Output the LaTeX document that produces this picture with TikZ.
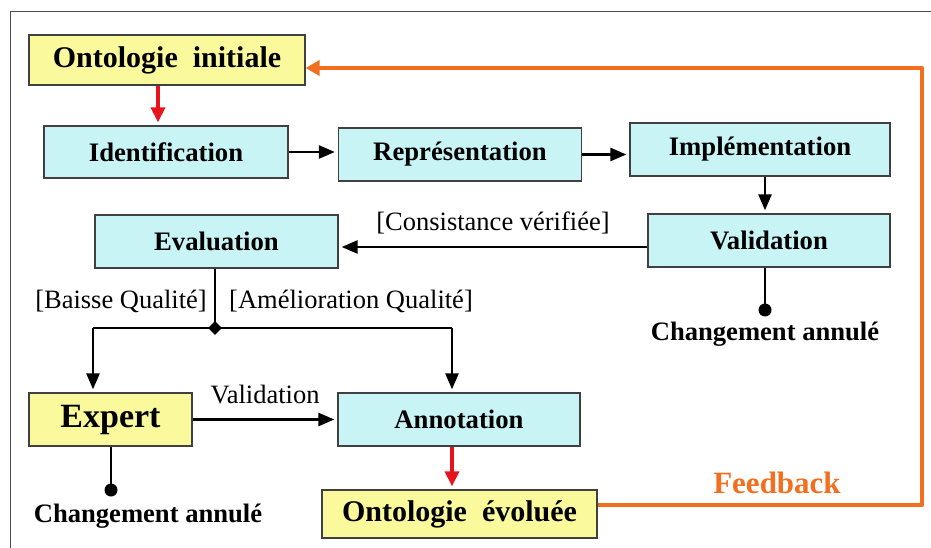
\documentclass[tikz,border=0pt]{standalone}
\usepackage{fontspec}
\setmainfont{Liberation Serif}
\usetikzlibrary{arrows.meta,shapes.geometric}

\definecolor{bleuclair}{HTML}{C8F4F6}
\definecolor{jaunepale}{HTML}{FAFA9C}
\definecolor{orangefb}{HTML}{F26F1F}
\definecolor{rougefl}{HTML}{E8141C}

\tikzset{
	etape/.style={draw=black!75, line width=1.3pt, fill=bleuclair, inner sep=0pt, font=\fontsize{26.7}{30}\selectfont\bfseries},
	onto/.style={etape, fill=jaunepale, font=\fontsize{30}{34}\selectfont\bfseries},
	fleche/.style={draw=black, line width=2.6pt, shorten >=3pt, -{Triangle[length=16pt,width=13pt]}},
	flecherouge/.style={fleche, draw=rougefl, -{Triangle[length=15pt,width=14pt]}, line width=3.5pt},
	garde/.style={font=\fontsize{26.5}{30}\selectfont, inner sep=0pt},
	annule/.style={font=\fontsize{26.6}{30}\selectfont\bfseries, inner sep=0pt},
}

\begin{document}
\begin{tikzpicture}[x=1pt, y=-1pt]

		\useasboundingbox (0, 0) rectangle (931, 548);
		\fill[white] (0, 0) rectangle (931, 548);
		\draw[color=black!70, line width=1pt] (10, 548) -- (10, 12) -- (931, 12);

		\node[onto, minimum width=276pt, minimum height=50pt] (oi) at (167, 60) {Ontologie\ \ initiale};
		\node[etape, minimum width=244pt, minimum height=52pt] (ident) at (166, 152) {Identification};
		\node[etape, minimum width=243pt, minimum height=53pt] (repr) at (460, 154.5) {Représentation};
		\node[etape, minimum width=260pt, minimum height=53pt] (impl) at (760, 149.5) {Implémentation};
		\node[etape, minimum width=242pt, minimum height=53pt] (valid) at (769, 240.5) {Validation};
		\node[etape, minimum width=243pt, minimum height=53pt] (eval) at (216.5, 241.5) {Evaluation};
		\node[onto, minimum width=163pt, minimum height=53pt, font=\fontsize{34}{38}\selectfont\bfseries] (expert) at (110.5, 419.5) {Expert};
		\node[etape, minimum width=242pt, minimum height=53pt] (annot) at (459, 419.5) {Annotation};
		\node[onto, minimum width=275pt, minimum height=48pt] (oe) at (459.5, 514) {Ontologie\ \ évoluée};

		\draw[flecherouge] ([xshift=-9pt]oi.south) -- ([xshift=-8pt]ident.north);
		\draw[fleche] (ident.east) -- (ident.east -| repr.west);
		\draw[fleche] (repr.east) -- (repr.east -| impl.west);
		\draw[fleche] ([xshift=5pt]impl.south) -- ([xshift=-4pt]valid.north);
		\draw[fleche] ([yshift=-6.5pt]valid.west) -- ([yshift=-6.5pt]valid.west -| eval.east)
			node[garde, midway, above=12pt] (consist) {[Consistance vérifiée]};

		\coordinate (branche) at (215, 328);
		\coordinate (gauche) at (93, 328);
		\coordinate (droite) at (452, 328);
		\draw[line width=2.4pt] (eval.south -| branche) -- (branche);
		\draw[line width=2.4pt] (gauche) -- (droite);
		\node[diamond, fill=black, inner sep=0pt, minimum size=14pt] (losange) at (branche) {};
		\draw[fleche] (gauche) -- (gauche |- expert.north);
		\draw[fleche] (droite) -- (droite |- annot.north);
		\node[garde] (baisse) at (121, 301) {[Baisse Qualité]};
		\node[garde] (amelio) at (351, 301) {[Amélioration Qualité]};

		\draw[fleche] (expert.east) -- (annot.west)
			node[garde, midway, above=14pt] (valexp) {Validation};
		\draw[flecherouge] ([xshift=-7pt]annot.south) -- ([xshift=-7pt]annot.south |- oe.north);

		\coordinate (arretV) at (765, 310);
		\draw[line width=2.6pt] (valid.south -| arretV) -- (arretV);
		\fill (arretV) circle (6.5pt);
		\node[annule] (annuleV) at (765, 334) {Changement annulé};

		\coordinate (arretE) at (111, 490);
		\draw[line width=2.6pt] (expert.south -| arretE) -- (arretE);
		\fill (arretE) circle (6.5pt);
		\node[annule] (annuleE) at (148, 516) {Changement annulé};

		\coordinate (fbbas) at (922, 505);
		\coordinate (fbhaut) at (922, 68);
		\draw[orangefb, line width=4.5pt, line join=round, -{Triangle[length=14pt,width=15pt]}] (oe.east |- fbbas) -- (fbbas) -- (fbhaut) -- (fbhaut -| oi.east);
		\node[font=\fontsize{31}{34}\selectfont\bfseries, text=orangefb, inner sep=0pt] (feedback) at (777, 483) {Feedback};

	\end{tikzpicture}
\end{document}
